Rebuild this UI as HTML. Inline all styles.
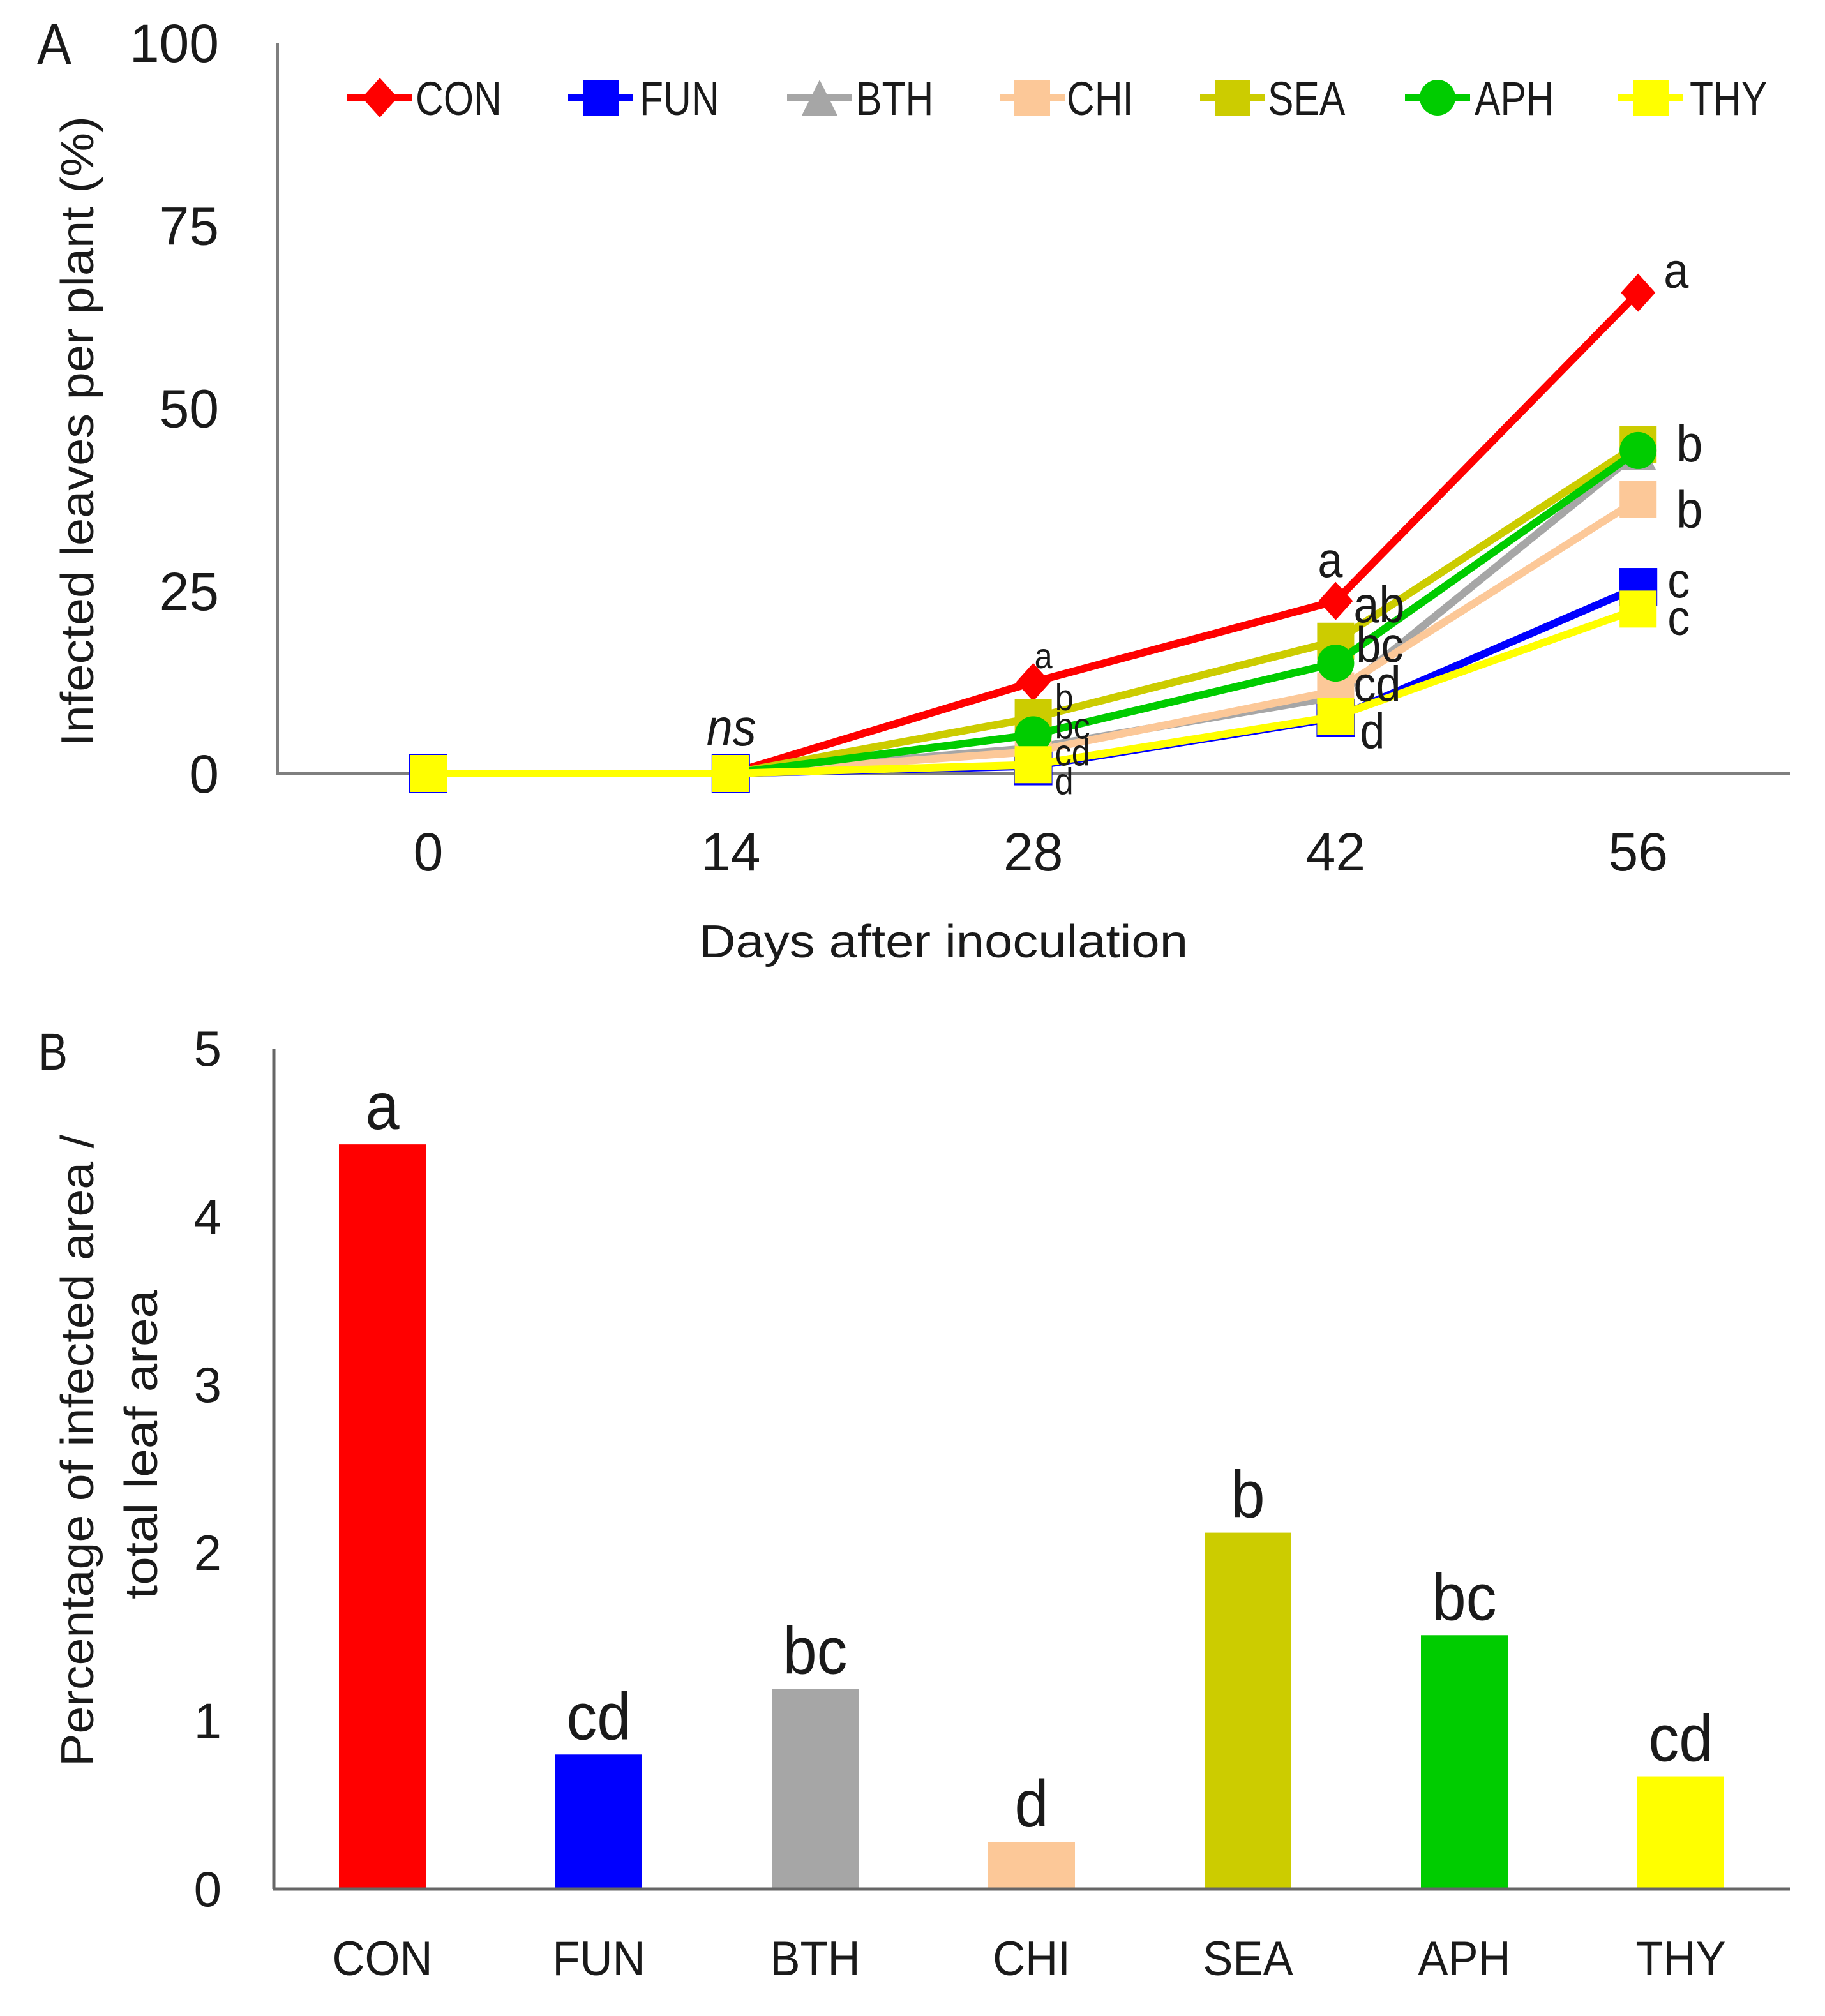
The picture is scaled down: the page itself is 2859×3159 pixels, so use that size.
<!DOCTYPE html>
<html lang="en">
<head>
<meta charset="utf-8">
<title>Infected leaves and infected area by treatment</title>
<style>
html,body{margin:0;padding:0;background:#fff;width:2859px;height:3159px;overflow:hidden}
svg{display:block}
text{font-family:"Liberation Sans",sans-serif;fill:#1a1a1a}
</style>
</head>
<body>
<svg id="figure" xmlns="http://www.w3.org/2000/svg" width="2859" height="3159" viewBox="0 0 2859 3159">
  <rect width="2859" height="3159" fill="#fff"/>
  <text x="58" y="100" font-size="90" textLength="54" lengthAdjust="spacingAndGlyphs">A</text>
  <text x="60" y="1676" font-size="82" textLength="46" lengthAdjust="spacingAndGlyphs">B</text>
  <text transform="translate(146 1170) rotate(-90)" font-size="72" textLength="988" lengthAdjust="spacingAndGlyphs">Infected leaves per plant (%)</text>
  <text x="1095" y="1500" font-size="72" textLength="766" lengthAdjust="spacingAndGlyphs">Days after inoculation</text>
  <text transform="translate(146 2768) rotate(-90)" font-size="72" textLength="990" lengthAdjust="spacingAndGlyphs">Percentage of infected area /</text>
  <text transform="translate(246 2506) rotate(-90)" font-size="72" textLength="485" lengthAdjust="spacingAndGlyphs">total leaf area</text>
  <g id="chart-a"></g>
  <g id="chart-b"></g>
</svg>
<script>
// Chart A data
const days = [0, 14, 28, 42, 56];
const yTicksA = [0, 25, 50, 75, 100];
const conValues = [0, 0, 12.5, 23.6, 65.8];
const funValues = [0, 0, 1, 7.6, 25.5];
const bthValues = [0, 0, 3.5, 10.5, 44];
const chiValues = [0, 0, 3, 11.3, 37.5];
const seaValues = [0, 0, 7.6, 18.1, 45];
const aphValues = [0, 0, 5.3, 15.1, 44.2];
const thyValues = [0, 0, 1.2, 7.8, 22.5];
const seriesNames = ['CON', 'FUN', 'BTH', 'CHI', 'SEA', 'APH', 'THY'];
const seriesValues = [conValues, funValues, bthValues, chiValues, seaValues, aphValues, thyValues];

// Chart B data
const barCategories = ['CON', 'FUN', 'BTH', 'CHI', 'SEA', 'APH', 'THY'];
const barValues = [4.43, 0.8, 1.19, 0.28, 2.12, 1.51, 0.67];
const barLetters = ['a', 'cd', 'bc', 'd', 'b', 'bc', 'cd'];
const yTicksB = [0, 1, 2, 3, 4, 5];

// Styling
const colors = ['#ff0000', '#0000ff', '#a6a6a6', '#fcc898', '#cccc00', '#00cc00', '#ffff00'];
const markers = ['diamond', 'square', 'triangle', 'square', 'square', 'circle', 'square'];
const markerSizes = [27, 30, 28, 29, 29, 29, 29];
const legendCenters = [595, 941, 1284, 1617, 1931, 2252, 2586];
const legendTextStarts = [651, 1002, 1341, 1671, 1986, 2310, 2647];

const NS = 'http://www.w3.org/2000/svg';
const chartA = document.getElementById('chart-a');
const chartB = document.getElementById('chart-b');

// Axis functions
const xA = d => 671 + (d / 14) * 473.8;
const yA = v => 1212 - (v / 100) * 1145;
const xB = i => 599 + i * 339;
const yB = v => 2960 - (v / 5) * 1317;

function shape(parent, tag, attrs) {
  const el = document.createElementNS(NS, tag);
  for (const k in attrs) el.setAttribute(k, attrs[k]);
  parent.appendChild(el);
  return el;
}

function label(parent, str, x, y, size, anchor, sx, italic) {
  const el = document.createElementNS(NS, 'text');
  el.textContent = str;
  el.setAttribute('transform', 'translate(' + x + ' ' + y + ') scale(' + sx + ' 1)');
  el.setAttribute('font-size', size);
  el.setAttribute('text-anchor', anchor);
  if (italic) el.setAttribute('font-style', 'italic');
  parent.appendChild(el);
  return el;
}

function drawMarker(parent, kind, cx, cy, r, color) {
  if (kind === 'diamond') {
    return shape(parent, 'polygon', { points: (cx - r) + ',' + cy + ' ' + cx + ',' + (cy - r - 3) + ' ' + (cx + r) + ',' + cy + ' ' + cx + ',' + (cy + r + 3), fill: color });
  }
  if (kind === 'triangle') {
    return shape(parent, 'polygon', { points: (cx - r) + ',' + (cy + r) + ' ' + cx + ',' + (cy - r) + ' ' + (cx + r) + ',' + (cy + r), fill: color });
  }
  if (kind === 'circle') {
    return shape(parent, 'circle', { cx: cx, cy: cy, r: r, fill: color });
  }
  return shape(parent, 'rect', { x: cx - r, y: cy - r, width: 2 * r, height: 2 * r, fill: color });
}

// Chart A axes
const axisYA = shape(chartA, 'line', { x1: 435, x2: 435, y1: yA(100), y2: yA(0), stroke: '#7f7f7f', 'stroke-width': 4 });


const axisXA = shape(chartA, 'line', { x1: 433, x2: 2804, y1: yA(0), y2: yA(0), stroke: '#7f7f7f', 'stroke-width': 4 });



yTicksA.forEach(t => {
  const el = label(chartA, String(t), 343, yA(t) + 30, 84, 'end', 1);
  
  
});
days.forEach(d => {
  const el = label(chartA, String(d), xA(d), 1364, 84, 'middle', 1);
  
  
});

// Chart A series
seriesNames.forEach((name, s) => {
  const g = shape(chartA, 'g', {});
  
  
  const values = seriesValues[s];
  const pts = values.map((v, i) => xA(days[i]) + ',' + yA(v)).join(' ');
  const line = shape(g, 'polyline', { points: pts, fill: 'none', stroke: colors[s], 'stroke-width': 12, 'stroke-linejoin': 'round' });
  
  
  values.forEach((v, i) => {
    const m = drawMarker(g, markers[s], xA(days[i]), yA(v), markerSizes[s], colors[s]);
    
    
  });
});

// Legend
seriesNames.forEach((name, s) => {
  const g = shape(chartA, 'g', {});
  
  
  const cx = legendCenters[s];
  shape(g, 'line', { x1: cx - 51, x2: cx + 51, y1: 153, y2: 153, stroke: colors[s], 'stroke-width': 10 });
  drawMarker(g, markers[s], cx, 153, 28, colors[s]);
  const t = label(g, name, legendTextStarts[s], 180, 74, 'start', 0.82);
  
  
});

// Significance letters, anchored to the data points
function note(dayIndex, value, str, dx, dy, size, italic) {
  const el = label(chartA, str, xA(days[dayIndex]) + dx, yA(value) + dy, size, 'start', 0.9, italic);
  
  
}
note(1, conValues[1], 'ns', -38, -44, 82, true);
note(2, conValues[2], 'a', 2, -22, 56);
note(2, seaValues[2], 'b', 34, -12, 58);
note(2, aphValues[2], 'bc', 34, 6, 58);
note(2, chiValues[2], 'cd', 34, 22, 58);
note(2, funValues[2], 'd', 34, 44, 58);
note(3, conValues[3], 'a', -28, -38, 78);
note(3, seaValues[3], 'ab', 28, -30, 80);
note(3, aphValues[3], 'bc', 32, -2, 78);
note(3, chiValues[3], 'cd', 28, 16, 78);
note(3, thyValues[3], 'd', 38, 50, 78);
note(4, conValues[4], 'a', 40, -8, 78);
note(4, seaValues[4], 'b', 60, 26, 82);
note(4, chiValues[4], 'b', 60, 44, 82);
note(4, funValues[4], 'c', 46, 16, 78);
note(4, thyValues[4], 'c', 46, 40, 78);

// Chart B bars
barCategories.forEach((name, i) => {
  const bar = shape(chartB, 'rect', { x: xB(i) - 68, y: yB(barValues[i]), width: 136, height: yB(0) - yB(barValues[i]), fill: colors[i] });
  
  
  const letter = label(chartB, barLetters[i], xB(i), yB(barValues[i]) - 24, 104, 'middle', 0.92);
  
  
  const cat = label(chartB, name, xB(i), 3095, 76, 'middle', 0.93);
  
  
});

// Chart B axes
const axisYB = shape(chartB, 'line', { x1: 429, x2: 429, y1: yB(5), y2: yB(0), stroke: '#666666', 'stroke-width': 5 });


const axisXB = shape(chartB, 'line', { x1: 427, x2: 2804, y1: yB(0), y2: yB(0), stroke: '#666666', 'stroke-width': 5 });


yTicksB.forEach(t => {
  const el = label(chartB, String(t), 347, yB(t) + 27, 78, 'end', 1);
  
  
});
</script>
</body>
</html>
